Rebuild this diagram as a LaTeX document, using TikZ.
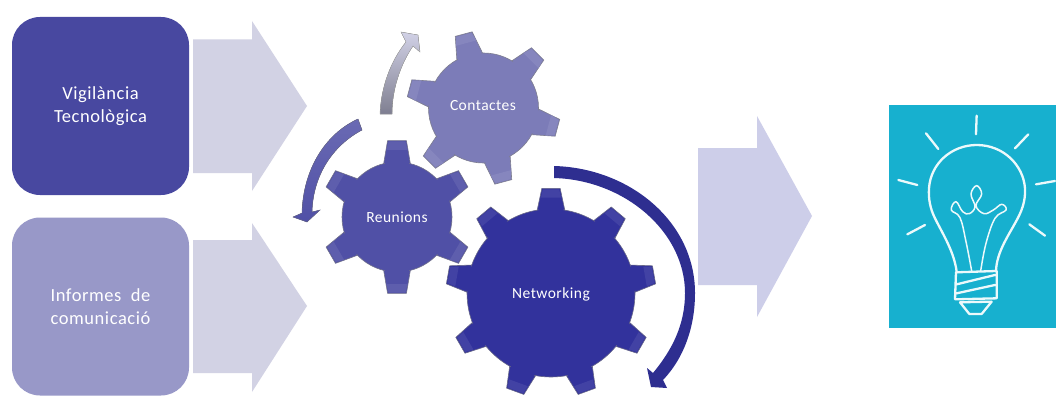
\documentclass[tikz,border=0pt]{standalone}
\usepackage{fontspec}
\usepackage{xcolor}
\usepackage{tikz}
\usetikzlibrary{calc}
\setmainfont[LetterSpace=3]{Carlito}
\definecolor{boxdark}{HTML}{4848A0}
\definecolor{boxlight}{HTML}{9898C8}
\definecolor{blockgrey}{HTML}{D2D2E4}
\definecolor{blockblue}{HTML}{CDCEE9}
\definecolor{cogpale}{HTML}{7C7CB8}
\definecolor{cogmid}{HTML}{5050A6}
\definecolor{cogdark}{HTML}{32329C}
\definecolor{panel}{HTML}{17B0CF}
\tikzset{
  box/.style={rounded corners=28pt, minimum width=177pt, minimum height=178pt, inner sep=0pt,
    text=white, align=center, font=\fontsize{18.5}{22.5}\selectfont},
  lab/.style={text=white, font=\fontsize{15.5}{18}\selectfont, inner sep=1pt},
  bulb/.style={draw=white!92!panel, line width=2.3pt, line cap=round, line join=round},
  thin/.style={draw=white!92!panel, line width=1.5pt, line cap=round, line join=round},
}
% centre x, y; body radius; tip radius; half angles base, tip; colour; tooth angles
\newcommand{\cogwheel}[8]{
  \foreach \a in {#8} {
    \fill[#7, draw=gray!70!#7, line width=0.6pt] ($(#1,#2)+(-\a+#5:#3-2)$) -- ($(#1,#2)+(-\a+#6:#4)$)
      -- ($(#1,#2)+(-\a-#6:#4)$) -- ($(#1,#2)+(-\a-#5:#3-2)$) -- cycle;
    \fill[#7!92!white] ($(#1,#2)+(-\a+#6*0.9:#4-1)$) -- ($(#1,#2)+(-\a-#6*0.9:#4-1)$)
      -- ($(#1,#2)+(-\a-#5*0.6:#4-9)$) -- ($(#1,#2)+(-\a+#5*0.6:#4-9)$) -- cycle;
  }
  \fill[#7, draw=gray!70!#7, line width=0.6pt] (#1,#2) circle (#3);
  \foreach \a in {#8}
    \fill[#7] ($(#1,#2)+(-\a+#5*0.9:#3-2)$) -- ($(#1,#2)+(-\a+#5*0.75:#3+3)$)
      -- ($(#1,#2)+(-\a-#5*0.75:#3+3)$) -- ($(#1,#2)+(-\a-#5*0.9:#3-2)$) -- cycle;
}
\begin{document}
\begin{tikzpicture}[x=1pt,y=-1pt]
  \clip (0,0) rectangle (1056,396);
  \fill[white] (0,0) rectangle (1056,396);
  % left boxes
  \node[box, fill=boxdark] (vigilancia) at (100.5,106) {Vigilància\\Tecnològica};
  \node[box, fill=boxlight] (informes) at (100.5,306.5) {Informes~~de\\comunicació};
  % block arrows
  \foreach \px/\py/\sa/\sb/\ha/\hb/\tip/\c in {193/252/39.5/173/21/191/106/blockgrey, 193/252/240/373/223/392/306/blockgrey, 698/757/148/285/116/317/216/blockblue}
    \fill[\c] (\px,\sa) -- (\py,\sa) -- (\py,\ha) -- (\py+55,\tip) -- (\py,\hb) -- (\py,\sb) -- (\px,\sb) -- cycle;
  % gears
  \cogwheel{483.5}{108}{55}{77}{15}{6.5}{cogpale}{105,45,-15,-75,-135,165}
  \cogwheel{397}{217}{55}{77}{15}{7}{cogmid}{90,30,-30,-90,-150,150}
  \cogwheel{551}{293}{84}{105}{10}{5}{cogdark}{90,50,10,-30,-70,-110,-150,170,130}
  \node[lab] (contactes) at (483,106) {Contactes};
  \node[lab] (reunions) at (397,217) {Reunions};
  \node[lab] (networking) at (551,294) {Networking};
  % curved arrows
  \fill[top color=white!65!cogpale, bottom color=gray!70!cogpale, draw=gray!70, line width=0.4pt]
    (380,114) .. controls (381,88) and (390,62) .. (406,42) -- (401,32) -- (418,35) -- (420,52)
    -- (413,46) .. controls (400,65) and (392,90) .. (392,114) -- cycle;
  \fill[top color=cogmid!85!white, bottom color=cogmid, draw=gray!60!cogmid, line width=0.4pt]
    (358,119) .. controls (325,134) and (303,170) .. (302,213) -- (293,217) -- (307,222) -- (320,210)
    -- (312,212) .. controls (313,176) and (332,146) .. (362,130) -- cycle;
  \fill[cogdark!92!black]
    (554,166) .. controls (630,168) and (695,222) .. (695,293) .. controls (695,327) and (684,358) .. (663,380)
    -- (667,388) -- (651,387) -- (647,368) -- (653,373) .. controls (672,350) and (685,325) .. (685,293)
    .. controls (685,232) and (625,180) .. (554,178) -- cycle;
  % lamp
  \fill[panel] (889,105) rectangle (1056,328);
  \begin{scope}[shift={(880,95)}, x=0.3333pt, y=-0.3333pt]
    \foreach \xa/\ya/\xb/\yb in {290/62/288/118, 138/115/175/162, 445/118/405/160, 55/255/112/270, 525/258/468/268, 82/418/135/390, 495/422/448/388}
      \draw[bulb] (\xa,\ya) -- (\xb,\yb);
    \draw[bulb] (230,530) .. controls (222,470) and (190,420) .. (165,370)
      .. controls (150,340) and (145,310) .. (147,280) .. controls (152,205) and (215,150) .. (290,150)
      .. controls (370,150) and (430,210) .. (435,280) .. controls (437,320) and (425,350) .. (405,385)
      .. controls (380,430) and (350,475) .. (348,528);
    \draw[bulb] (228,532) -- (350,528) (230,568) -- (345,540) (230,595) -- (345,570)
      (225,613) -- (350,610) (228,532) -- (225,613) (350,528) -- (350,610)
      (240,622) -- (335,620) (240,622) -- (268,657) -- (305,657) -- (335,620);
    \draw[thin] plot[smooth, tension=0.65] coordinates {(275,528) (258,440) (240,368) (214,345) (228,320)
      (248,350) (268,356) (285,335) (273,297) (290,272) (305,297) (288,332) (312,356) (340,345)
      (365,328) (378,345) (345,370) (318,445) (302,528)};
  \end{scope}
\end{tikzpicture}
\end{document}
